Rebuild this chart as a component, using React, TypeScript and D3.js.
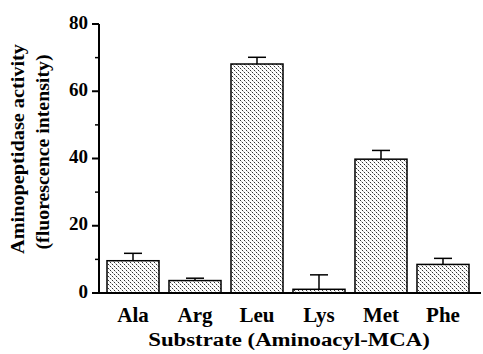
import React from "react";
import * as d3 from "d3";

const categories = ["Ala", "Arg", "Leu", "Lys", "Met", "Phe"];
const values = [9.6, 3.7, 68.1, 1.1, 39.8, 8.5];
const errors = [2.2, 0.7, 2.0, 4.3, 2.6, 1.8];
const majorTicks = [0, 20, 40, 60, 80];
const minorTicks = [10, 30, 50, 70];

const W = 483;
const H = 354;
const font = "'Liberation Serif', 'Times New Roman', serif";

export default function App() {
  const x = d3
    .scaleBand<string>()
    .domain(categories)
    .range([99, 477])
    .paddingInner(0.161)
    .paddingOuter(0.129);
  const y = d3.scaleLinear().domain([0, 80]).range([293, 24]);
  const bw = x.bandwidth();
  const capHalf = 9;

  return (
    <svg
      width={W}
      height={H}
      style={{ position: "absolute", left: 0, top: 0, background: "#fff" }}
    >
      <defs>
        <pattern id="stip" width="4" height="4" patternUnits="userSpaceOnUse">
          <rect width="4" height="4" fill="#fff" />
          <rect x="0" y="0" width="1" height="1" fill="#333" />
          <rect x="2" y="2" width="1" height="1" fill="#333" />
          <rect x="1" y="1" width="1" height="1" fill="#bbb" />
          <rect x="3" y="3" width="1" height="1" fill="#bbb" />
        </pattern>
      </defs>
      {categories.map((c, i) => {
        const x0 = x(c)!;
        const cx = x0 + bw / 2;
        return (
          <g key={c}>
            <line
              x1={cx}
              x2={cx}
              y1={y(values[i])}
              y2={y(values[i] + errors[i])}
              stroke="#000"
              strokeWidth={1.5}
            />
            <line
              x1={cx - capHalf}
              x2={cx + capHalf}
              y1={y(values[i] + errors[i])}
              y2={y(values[i] + errors[i])}
              stroke="#000"
              strokeWidth={1.5}
            />
            <rect
              x={x0}
              y={y(values[i])}
              width={bw}
              height={y(0) - y(values[i])}
              fill="url(#stip)"
              stroke="#000"
              strokeWidth={1.5}
            />
          </g>
        );
      })}
      {/* y axis */}
      <line x1={99} x2={99} y1={y(80)} y2={y(0) + 1} stroke="#000" strokeWidth={2} />
      {majorTicks.map((t) => (
        <g key={"M" + t}>
          <line x1={92} x2={99} y1={y(t)} y2={y(t)} stroke="#000" strokeWidth={2} />
          <text
            x={88}
            y={y(t) - 2}
            dy="0.35em"
            textAnchor="end"
            fontFamily={font}
            fontWeight="bold"
            fontSize={19}
          >
            {t}
          </text>
        </g>
      ))}
      {minorTicks.map((t) => (
        <line key={"m" + t} x1={95} x2={99} y1={y(t)} y2={y(t)} stroke="#000" strokeWidth={1.5} />
      ))}
      {/* x axis */}
      <line x1={98} x2={481} y1={y(0)} y2={y(0)} stroke="#000" strokeWidth={2} />
      {categories.map((c) => (
        <text
          key={"t" + c}
          x={x(c)! + bw / 2}
          y={322}
          textAnchor="middle"
          fontFamily={font}
          fontWeight="bold"
          fontSize={21}
        >
          {c}
        </text>
      ))}
      <g transform="translate(289, 346) scale(1.2, 1)">
        <text
          x={0}
          y={0}
          textAnchor="middle"
          fontFamily={font}
          fontWeight="bold"
          fontSize={19}
        >
          Substrate (Aminoacyl-MCA)
        </text>
      </g>
      <g transform={`translate(0, 149) rotate(-90)`}>
        <text
          x={0}
          y={24}
          textAnchor="middle"
          fontFamily={font}
          fontWeight="bold"
          fontSize={18}
          textLength={210}
          lengthAdjust="spacingAndGlyphs"
        >
          Aminopeptidase activity
        </text>
        <text
          x={-3}
          y={49}
          textAnchor="middle"
          fontFamily={font}
          fontWeight="bold"
          fontSize={18}
          textLength={195}
          lengthAdjust="spacingAndGlyphs"
        >
          (fluorescence intensity)
        </text>
      </g>
    </svg>
  );
}
